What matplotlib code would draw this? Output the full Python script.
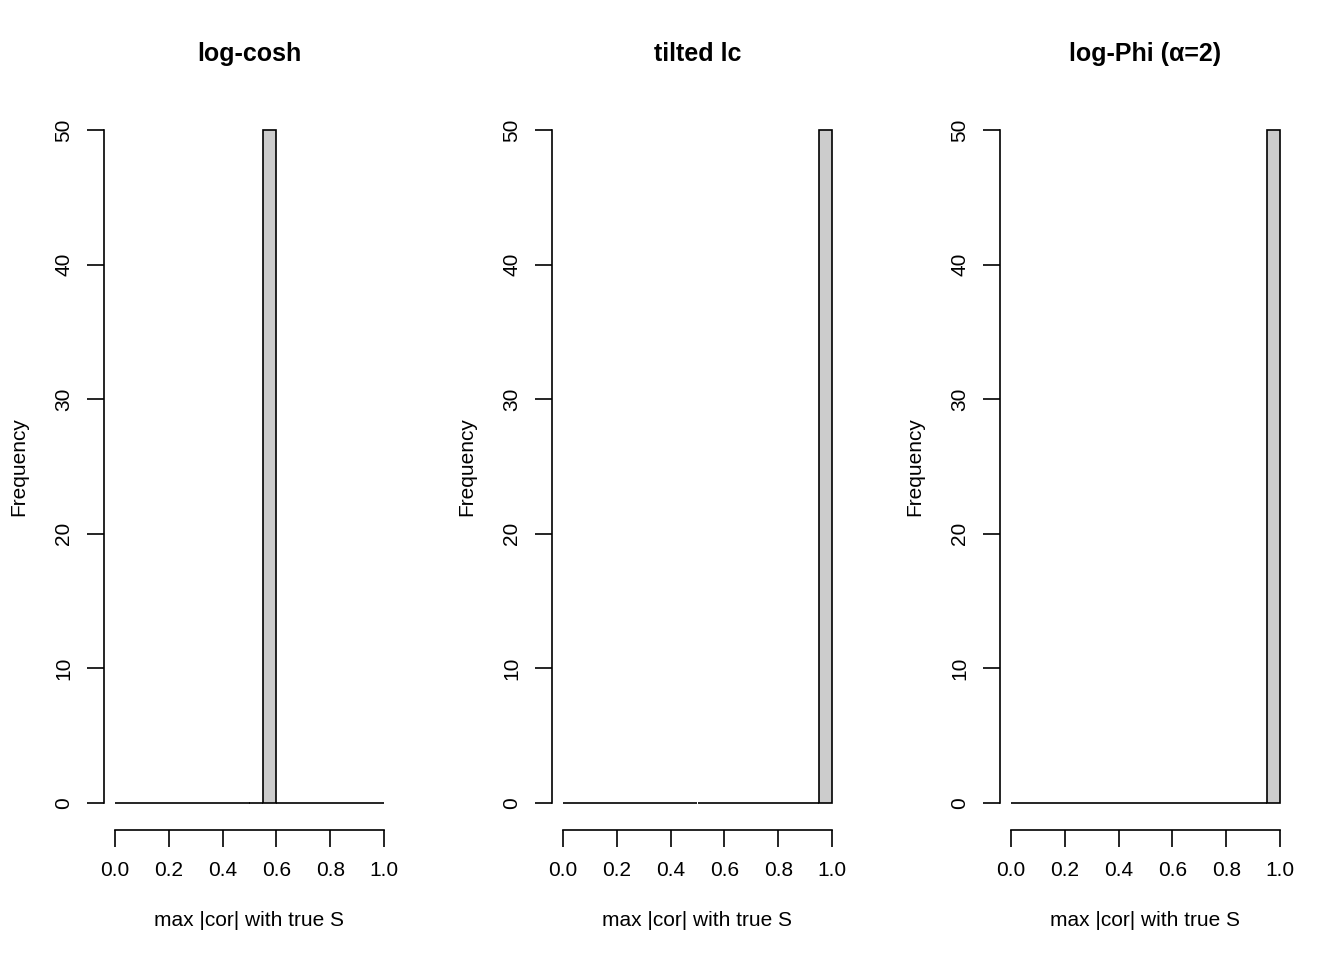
import matplotlib
matplotlib.use("Agg")

import matplotlib.pyplot as plt

plt.rcParams["font.family"] = ["Liberation Sans", "DejaVu Sans"]

# -----------------------------
# Datos
# -----------------------------

titles = ["log-cosh", "tilted lc", "log-Phi (α=2)"]

bin_edges = [0.00, 0.05, 0.10, 0.15, 0.20, 0.25, 0.30, 0.35, 0.40, 0.45, 0.50,
             0.55, 0.60, 0.65, 0.70, 0.75, 0.80, 0.85, 0.90, 0.95, 1.00]

counts_logcosh = [0, 0, 0, 0, 0, 0, 0, 0, 0, 0, 0, 50, 0, 0, 0, 0, 0, 0, 0, 0]
counts_tilted = [0, 0, 0, 0, 0, 0, 0, 0, 0, 0, 0, 0, 0, 0, 0, 0, 0, 0, 0, 50]
counts_logphi = [0, 0, 0, 0, 0, 0, 0, 0, 0, 0, 0, 0, 0, 0, 0, 0, 0, 0, 0, 50]

x_ticks = [0.0, 0.2, 0.4, 0.6, 0.8, 1.0]
y_ticks = [0, 10, 20, 30, 40, 50]

all_counts = [counts_logcosh, counts_tilted, counts_logphi]

# -----------------------------
# Figura
# -----------------------------

fig = plt.figure(figsize=(13.44, 9.6), dpi=100)

lefts = [104 / 1344, 552 / 1344, 1000 / 1344]

for left, title, counts in zip(lefts, titles, all_counts):
    ax = fig.add_axes([left, 1 - 830 / 960, 291 / 1344, 727 / 960])

    widths = [bin_edges[i + 1] - bin_edges[i] for i in range(len(counts))]

    ax.bar(
        bin_edges[:-1],
        counts,
        width=widths,
        align="edge",
        color="#cccccc",
        edgecolor="black",
        linewidth=1.2
    )

    ax.set_xlim(-0.04, 1.04)
    ax.set_ylim(-2, 52)

    ax.spines["top"].set_visible(False)
    ax.spines["right"].set_visible(False)
    ax.spines["bottom"].set_bounds(0, 1)
    ax.spines["left"].set_bounds(0, 50)
    ax.spines["bottom"].set_linewidth(1.2)
    ax.spines["left"].set_linewidth(1.2)

    ax.set_xticks(x_ticks)
    ax.set_xticklabels([f"{v:.1f}" for v in x_ticks])
    ax.set_yticks(y_ticks)
    ax.set_yticklabels([str(v) for v in y_ticks], rotation=90, va="center")

    ax.tick_params(axis="both", length=12, width=1.2, labelsize=15, pad=10)

    ax.set_xlabel("max |cor| with true S", fontsize=15, labelpad=23)
    ax.set_ylabel("Frequency", fontsize=15, labelpad=19)
    ax.set_title(title, fontsize=18, fontweight="bold", pad=30)

plt.savefig("out.png", dpi=100)
plt.close("all")
